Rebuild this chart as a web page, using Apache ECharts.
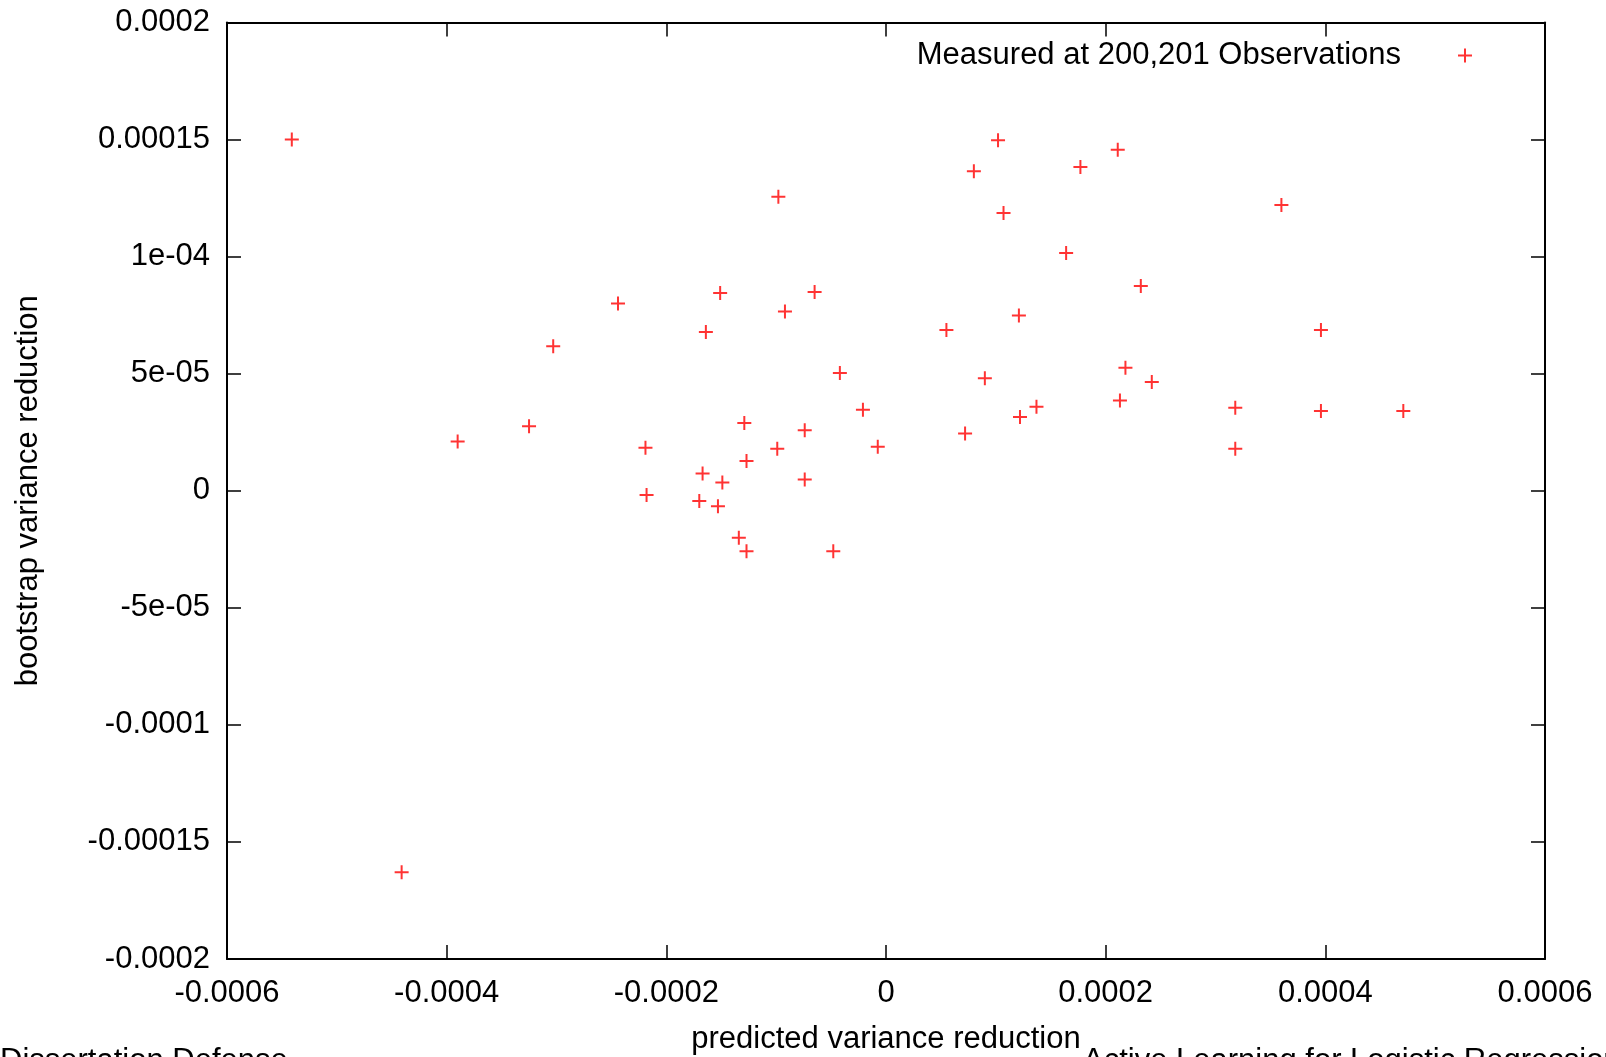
<!DOCTYPE html>
<html>
<head>
<meta charset="utf-8">
<script src="https://cdn.jsdelivr.net/npm/echarts@6/dist/echarts.min.js"></script>
<style>
  html, body { margin: 0; padding: 0; background: #fff; }
  #chart { width: 1606px; height: 1057px; }
</style>
</head>
<body>
<div id="chart"></div>
<script>
// predicted variance reduction (x) vs bootstrap variance reduction (y)
var predicted = [
  -5.41e-4, -4.41e-4, -3.90e-4, -3.25e-4, -3.03e-4, -2.44e-4, -2.19e-4, -2.18e-4, -1.70e-4, -1.67e-4,
  -1.64e-4, -1.53e-4, -1.51e-4, -1.49e-4, -1.34e-4, -1.29e-4, -1.27e-4, -1.27e-4, -9.9e-5, -9.8e-5,
  -9.2e-5, -7.4e-5, -7.4e-5, -6.5e-5, -4.8e-5, -4.2e-5, -2.1e-5, -7.5e-6, 5.5e-5, 7.2e-5,
  8.0e-5, 9.0e-5, 1.02e-4, 1.07e-4, 1.21e-4, 1.22e-4, 1.37e-4, 1.64e-4, 1.77e-4, 2.11e-4,
  2.13e-4, 2.18e-4, 2.32e-4, 2.42e-4, 3.18e-4, 3.18e-4, 3.60e-4, 3.96e-4, 3.96e-4, 4.71e-4
];
var bootstrap = [
  1.50e-4, -1.63e-4, 2.1e-5, 2.76e-5, 6.17e-5, 8.0e-5, 1.84e-5, -1.8e-6, -4.4e-6, 7.4e-6,
  6.78e-5, -6.6e-6, 8.45e-5, 3.5e-6, -2.01e-5, 2.89e-5, 1.27e-5, -2.58e-5, 1.79e-5, 1.256e-4,
  7.66e-5, 2.58e-5, 4.8e-6, 8.49e-5, -2.58e-5, 5.03e-5, 3.46e-5, 1.88e-5, 6.87e-5, 2.45e-5,
  1.365e-4, 4.81e-5, 1.497e-4, 1.186e-4, 7.48e-5, 3.15e-5, 3.59e-5, 1.015e-4, 1.383e-4, 1.457e-4,
  3.85e-5, 5.25e-5, 8.75e-5, 4.64e-5, 3.54e-5, 1.79e-5, 1.221e-4, 6.87e-5, 3.41e-5, 3.41e-5
];
var xTickLabels = ['-0.0006', '-0.0004', '-0.0002', '0', '0.0002', '0.0004', '0.0006'];
var yTickLabels = ['-0.0002', '-0.00015', '-0.0001', '-5e-05', '0', '5e-05', '1e-04', '0.00015', '0.0002'];
var seriesName = 'Measured at 200,201 Observations';

var points = predicted.map(function (x, i) { return [x, bootstrap[i]]; });

var plus = 'path://M6,0h2v6h6v2h-6v6h-2v-6h-6v-2h6z';
var font = 'Liberation Sans, Arial, sans-serif';
var fs = 31;

function axisBase(extra) {
  var base = {
    type: 'value',
    axisLine: { show: true, onZero: false, lineStyle: { color: '#000', width: 2 } },
    axisTick: { show: true, inside: true, length: 14, lineStyle: { color: '#000', width: 1.5 } },
    splitLine: { show: false },
    axisLabel: { color: '#000', fontSize: fs, fontFamily: font }
  };
  return Object.assign(base, extra);
}

var chart = echarts.init(document.getElementById('chart'));
chart.setOption({
  backgroundColor: '#fff',
  animation: false,
  textStyle: { fontFamily: font },
  grid: { left: 227, right: 61, top: 22.5, bottom: 98, containLabel: false, outerBoundsMode: 'none' },
  legend: {
    data: [{ name: seriesName, icon: plus }],
    right: 129,
    top: 35,
    align: 'right',
    itemWidth: 14,
    itemHeight: 14,
    textStyle: { color: '#000', fontSize: fs, fontFamily: font, padding: [0, 52, 0, 0] }
  },
  xAxis: [
    axisBase({
      min: -0.0006, max: 0.0006, interval: 0.0002, position: 'bottom',
      name: 'predicted variance reduction', nameLocation: 'middle', nameGap: 65,
      nameTextStyle: { color: '#000', fontSize: fs, fontFamily: font },
      axisLabel: {
        color: '#000', fontSize: fs, fontFamily: font, margin: 19,
        formatter: function (v, i) { return xTickLabels[i]; }
      }
    }),
    axisBase({
      min: -0.0006, max: 0.0006, interval: 0.0002, position: 'top',
      axisLabel: { show: false }
    })
  ],
  yAxis: [
    axisBase({
      min: -0.0002, max: 0.0002, interval: 0.00005, position: 'left',
      name: 'bootstrap variance reduction', nameLocation: 'middle', nameGap: 183, nameRotate: 90,
      nameTextStyle: { color: '#000', fontSize: fs, fontFamily: font },
      axisLabel: {
        color: '#000', fontSize: fs, fontFamily: font, margin: 17,
        formatter: function (v, i) { return yTickLabels[i]; }
      }
    }),
    axisBase({
      min: -0.0002, max: 0.0002, interval: 0.00005, position: 'right',
      axisLabel: { show: false }
    })
  ],
  graphic: [
    { type: 'text', left: 0, top: 1046, style: { text: 'Dissertation Defense', fill: '#000', font: fs + 'px ' + font } },
    { type: 'text', left: 1083, top: 1046, style: { text: 'Active Learning for Logistic Regression', fill: '#000', font: fs + 'px ' + font } }
  ],
  series: [{
    name: seriesName,
    type: 'scatter',
    xAxisIndex: 0,
    yAxisIndex: 0,
    symbol: plus,
    symbolSize: 14,
    itemStyle: { color: '#ff0000' },
    data: points
  }]
});
</script>
</body>
</html>
